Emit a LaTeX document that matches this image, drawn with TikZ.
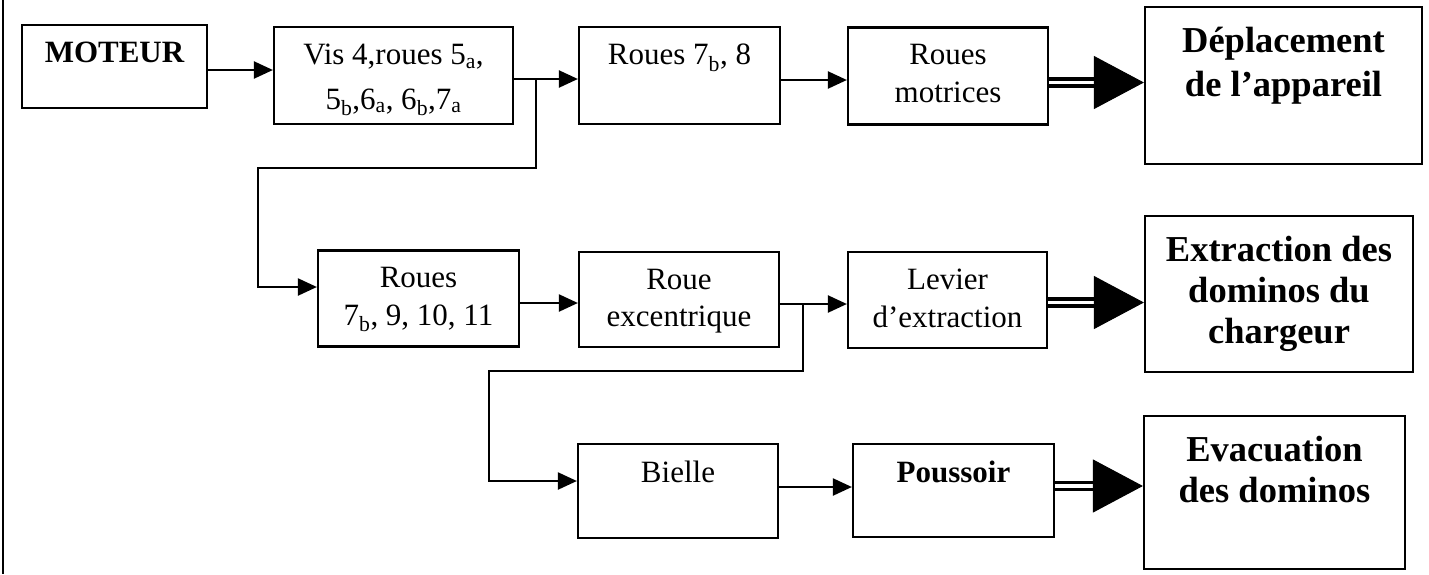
\documentclass[tikz,border=0pt]{standalone}
\usepackage{fontspec}
\setmainfont{Liberation Serif}
\usetikzlibrary{arrows.meta}

\begin{document}
\begin{tikzpicture}[x=1pt,y=-1pt,line width=2.2pt,>={Triangle[length=19pt,width=17pt]}]
	\tikzstyle{bloc}=[draw,shape=rectangle,inner sep=0pt]
	\tikzstyle{txt}=[anchor=north,align=center,inner sep=0pt,yshift=-17pt,font=\fontsize{31}{37.5}\selectfont]
	\tikzstyle{gras}=[anchor=north,align=center,inner sep=0pt,yshift=-20pt,font=\bfseries\fontsize{36.5}{41}\selectfont]
	\tikzstyle{double fleche}=[double,double distance=3.5pt,line width=3.5pt]
	\tikzstyle{grosse tete}=[-{Triangle[length=50pt,width=53pt]},line width=1pt]
	
	\useasboundingbox (0,0) rectangle (1429,574);
	\draw[line width=2.5pt] (3,0) -- (3,574);
	
	\node[bloc,minimum width=185pt,minimum height=83pt,label={[txt,font=\bfseries\fontsize{31}{37.5}\selectfont]north:MOTEUR}](mot) at (114.5,66.5){};
	\node[bloc,minimum width=239pt,minimum height=97pt,label={[txt]north:{Vis 4,roues 5\textsubscript{a},\\[7pt]5\textsubscript{b},6\textsubscript{a}, 6\textsubscript{b},7\textsubscript{a}}}](vis) at (393.5,75.5){};
	\node[bloc,minimum width=201pt,minimum height=97pt,label={[txt]north:{Roues 7\textsubscript{b}, 8}}](r7b) at (679.5,75.5){};
	\node[bloc,minimum width=200pt,minimum height=97pt,label={[txt]north:{Roues\\motrices}}](rm) at (948,76){};
	\node[bloc,minimum width=277pt,minimum height=157pt,label={[gras]north:{Déplacement\\[3pt]de l’appareil}}](dep) at (1283.5,85.5){};
	
	\node[bloc,minimum width=201pt,minimum height=96pt,label={[txt]north:{Roues\\7\textsubscript{b}, 9, 10, 11}}](r9) at (418.5,298.5){};
	\node[bloc,minimum width=200pt,minimum height=95pt,label={[txt]north:{Roue\\excentrique}}](exc) at (679,299.5){};
	\node[bloc,minimum width=199pt,minimum height=96pt,label={[txt]north:{Levier\\d’extraction}}](lev) at (947.5,300){};
	\node[bloc,minimum width=268pt,minimum height=156pt,label={[gras]north:{Extraction des\\dominos du\\chargeur}}](ext) at (1279,294){};
	
	\node[bloc,minimum width=200pt,minimum height=94pt,label={[txt]north:Bielle}](bie) at (678,491){};
	\node[bloc,minimum width=201pt,minimum height=93pt,label={[txt,font=\bfseries\fontsize{31}{37.5}\selectfont]north:Poussoir}](pou) at (953.5,490.5){};
	\node[bloc,minimum width=261pt,minimum height=153pt,label={[gras]north:{Evacuation\\des dominos}}](eva) at (1274.5,492.5){};
	
	\coordinate (j1) at (536,79);
	\coordinate (k1) at (258,168);
	\coordinate (j2) at (803,304);
	\coordinate (k2) at (489,371);
	\coordinate (t1) at (1095,82.5);
	\coordinate (t2) at (1095,302.5);
	\coordinate (t3) at (1094,486);
	
	\draw[->] ([yshift=-3.5pt]mot.east) -- ([yshift=5.5pt]vis.west);
	\draw[->] ([yshift=-3.5pt]vis.east) -- ([yshift=-3.5pt]r7b.west);
	\draw[->] ([yshift=-4.5pt]r7b.east) -- ([yshift=-4pt]rm.west);
	\draw[->] (j1) |- (k1) |- ([yshift=11.5pt]r9.west);
	
	\draw[->] ([yshift=-4.5pt]r9.east) -- ([yshift=-3.5pt]exc.west);
	\draw[->] ([yshift=-4.5pt]exc.east) -- ([yshift=-4pt]lev.west);
	\draw[->] (j2) |- (k2) |- ([yshift=10pt]bie.west);
	
	\draw[->] ([yshift=4pt]bie.east) -- ([yshift=3.5pt]pou.west);
	
	\draw[double fleche] ([yshift=-6.5pt]rm.east) -- (t1);
	\draw[grosse tete] (t1) -- (t1 -| dep.west);
	\draw[double fleche] ([yshift=-2.5pt]lev.east) -- (t2);
	\draw[grosse tete] (t2) -- (t2 -| ext.west);
	\draw[double fleche] ([yshift=4.5pt]pou.east) -- (t3);
	\draw[grosse tete] (t3) -- (t3 -| eva.west);
\end{tikzpicture}
\end{document}
